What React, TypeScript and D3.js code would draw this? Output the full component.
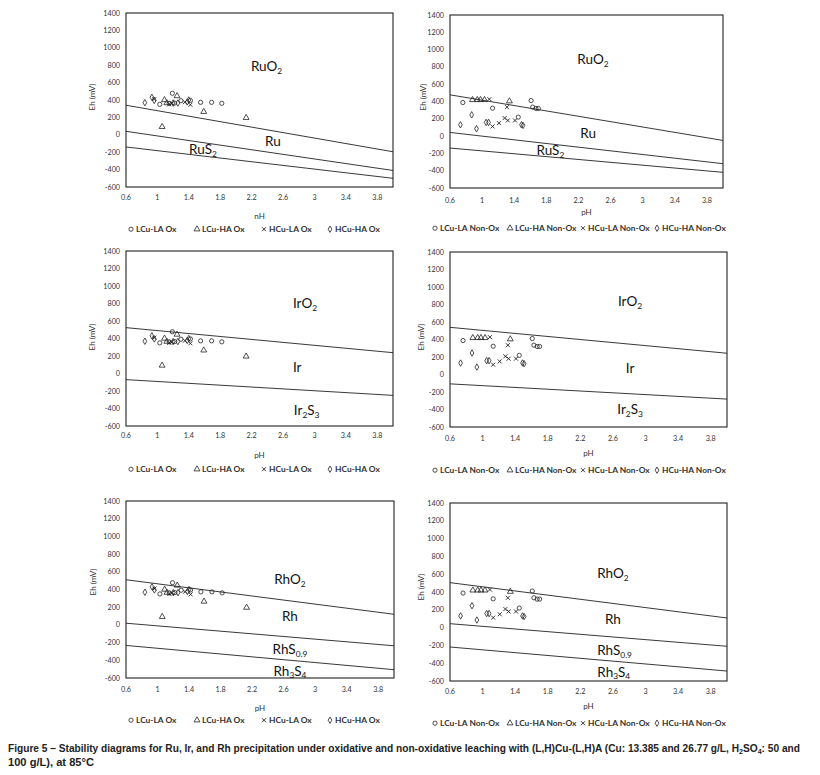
import * as d3 from "d3";

const phTicks = [0.6, 1, 1.4, 1.8, 2.2, 2.6, 3, 3.4, 3.8];
const ehTicks = [-600, -400, -200, 0, 200, 400, 600, 800, 1000, 1200, 1400];
const phRange = [0.6, 4.0];
const ehRange = [-600, 1400];

const oxNames = ["LCu-LA Ox", "LCu-HA Ox", "HCu-LA Ox", "HCu-HA Ox"];
const nonOxNames = ["LCu-LA Non-Ox", "LCu-HA Non-Ox", "HCu-LA Non-Ox", "HCu-HA Non-Ox"];

// measured points [pH, Eh mV], oxidative leaching
const lcuLaOx = [[1.03, 350], [1.15, 362], [1.19, 477], [1.22, 365], [1.3, 392], [1.42, 395], [1.55, 373], [1.69, 373], [1.82, 362]];
const lcuHaOx = [[1.06, 92], [1.09, 400], [1.12, 365], [1.25, 446], [1.59, 265], [2.13, 196]];
const hcuLaOx = [[0.96, 410], [1.15, 350], [1.18, 360], [1.35, 375], [1.42, 345]];
const hcuHaOx = [[0.84, 369], [0.93, 431], [0.96, 395], [1.2, 365], [1.26, 365], [1.38, 378], [1.4, 400]];

// non-oxidative leaching
const lcuLaNonOx = [[0.76, 388], [1.13, 323], [1.45, 219], [1.61, 411], [1.63, 335], [1.67, 320], [1.7, 320]];
const lcuHaNonOx = [[0.88, 419], [0.94, 419], [0.98, 419], [1.03, 419], [1.34, 404]];
const hcuLaNonOx = [[1.09, 427], [1.13, 112], [1.21, 150], [1.28, 208], [1.31, 335], [1.32, 181], [1.41, 181]];
const hcuHaNonOx = [[0.73, 131], [0.87, 246], [0.93, 85], [1.05, 158], [1.08, 158], [1.49, 131], [1.51, 124]];

const oxData = [lcuLaOx, lcuHaOx, hcuLaOx, hcuHaOx];
const nonOxData = [lcuLaNonOx, lcuHaNonOx, hcuLaNonOx, hcuHaNonOx];

// boundaries: Eh at pH 0.6 and at pH 4.0
const ruOxBounds = [[340, -195], [40, -410], [-140, -500]];
const ruNonOxBounds = [[477, -50], [42, -319], [-138, -419]];
const irOxBounds = [[524, 238], [-70, -250]];
const irNonOxBounds = [[539, 243], [-107, -281]];
const rhOxBounds = [[510, 120], [19, -236], [-232, -506]];
const rhNonOxBounds = [[505, 108], [44, -210], [-218, -488]];

// field labels [text, pH, Eh]; "_x" = subscript
const ruOxLabels = [["RuO_2", 2.39, 785], ["Ru", 2.47, -81], ["RuS_2", 1.58, -165]];
const ruNonOxLabels = [["RuO_2", 2.38, 881], ["Ru", 2.32, 35], ["RuS_2", 1.85, -169]];
const irOxLabels = [["IrO_2", 2.88, 798], ["Ir", 2.78, 63], ["Ir_2S_3", 2.9, -421]];
const irNonOxLabels = [["IrO_2", 2.81, 831], ["Ir", 2.81, 72], ["Ir_2S_3", 2.81, -403]];
const rhOxLabels = [["RhO_2", 2.68, 514], ["Rh", 2.68, 94], ["RhS_0.9", 2.68, -274], ["Rh_3S_4", 2.68, -521]];
const rhNonOxLabels = [["RhO_2", 2.6, 613], ["Rh", 2.6, 89], ["RhS_0.9", 2.62, -255], ["Rh_3S_4", 2.61, -499]];

const panels = [
  { box: [126, 13, 393, 187], bounds: ruOxBounds, labels: ruOxLabels, ox: true, tickY: 199.5, titleY: 219, legendY: 232, yTitle: [92, 97], pHLabel: "nH" },
  { box: [450, 15, 723, 188], bounds: ruNonOxBounds, labels: ruNonOxLabels, ox: false, tickY: 202.5, titleY: 215, legendY: 231, yTitle: [423, 97], pHLabel: "pH" },
  { box: [126, 251, 393, 426], bounds: irOxBounds, labels: irOxLabels, ox: true, tickY: 437.5, titleY: 458, legendY: 472, yTitle: [92, 337], pHLabel: "pH" },
  { box: [450, 252, 727, 427], bounds: irNonOxBounds, labels: irNonOxLabels, ox: false, tickY: 440.5, titleY: 456, legendY: 473, yTitle: [421, 337], pHLabel: "pH" },
  { box: [126, 501, 394, 678], bounds: rhOxBounds, labels: rhOxLabels, ox: true, tickY: 691.5, titleY: 711, legendY: 723, yTitle: [93, 582], pHLabel: "pH" },
  { box: [450, 503, 727, 681], bounds: rhNonOxBounds, labels: rhNonOxLabels, ox: false, tickY: 693.5, titleY: 709, legendY: 726, yTitle: [421, 587], pHLabel: "pH" },
];

const oxLegendX = [5, 71, 138, 204];
const nonOxLegendX = [-15, 60, 133, 207];

const ink = "#222";
const fmt = (v: number) => String(+v.toFixed(1));

function Marker({ kind, x, y }: { kind: number; x: number; y: number }) {
  if (kind === 0) return <circle cx={x} cy={y} r={2.1} fill="none" stroke={ink} strokeWidth={0.8} />;
  if (kind === 1) return <path d={d3.symbol(d3.symbolTriangle, 15)()!} transform={`translate(${x},${y})`} fill="none" stroke={ink} strokeWidth={0.8} />;
  if (kind === 2) return <path d="M-2,-2L2,2M-2,2L2,-2" transform={`translate(${x},${y})`} stroke={ink} strokeWidth={0.9} />;
  return <path d={d3.symbol(d3.symbolDiamond, 12)()!} transform={`translate(${x},${y})`} fill="none" stroke={ink} strokeWidth={0.8} />;
}

function Formula({ text, x, y, size }: { text: string; x: number; y: number; size: number }) {
  const parts = text.split(/_(\d+(?:\.\d+)?)/);
  return (
    <text x={x} y={y} fontSize={size} textAnchor="middle" fill="#111" fontFamily="Lato, 'Noto Sans', sans-serif">
      {parts.map((p, i) =>
        i % 2 === 1 ? (
          <tspan key={i} fontSize={size * 0.62} dy={size * 0.22}>{p}</tspan>
        ) : p ? (
          <tspan key={i} dy={i > 0 ? -size * 0.22 : 0}>{p}</tspan>
        ) : null
      )}
    </text>
  );
}

function Panel({ p }: { p: (typeof panels)[number] }) {
  const [l, t, r, b] = p.box;
  const x = d3.scaleLinear().domain(phRange).range([l, r]);
  const y = d3.scaleLinear().domain(ehRange).range([b, t]);
  const data = p.ox ? oxData : nonOxData;
  const names = p.ox ? oxNames : nonOxNames;
  const legX = p.ox ? oxLegendX : nonOxLegendX;
  return (
    <g>
      {p.bounds.map((bd, i) => (
        <line key={i} x1={x(phRange[0])} y1={y(bd[0])} x2={x(phRange[1])} y2={y(bd[1])} stroke={ink} strokeWidth={0.9} />
      ))}
      <rect x={l} y={t} width={r - l} height={b - t} fill="none" stroke={ink} strokeWidth={1.1} />
      {ehTicks.map((v) => (
        <text key={v} x={l - 6} y={y(v) + 2.5} fontSize={7.2} textAnchor="end" fill="#333" fontFamily="Lato, sans-serif">{v}</text>
      ))}
      {phTicks.map((v) => (
        <text key={v} x={x(v)} y={p.tickY} fontSize={7.2} textAnchor="middle" fill="#333" fontFamily="Lato, sans-serif">{fmt(v)}</text>
      ))}
      <text x={(l + r) / 2} y={p.titleY} fontSize={8} textAnchor="middle" fill="#333" fontFamily="Lato, sans-serif">{p.pHLabel}</text>
      <text transform={`translate(${p.yTitle[0]},${p.yTitle[1]}) rotate(-90)`} dy="0.35em" fontSize={8} textAnchor="middle" fill="#333" fontFamily="Lato, sans-serif">Eh (mV)</text>
      {p.labels.map(([txt, ph, eh]) => (
        <Formula key={txt as string} text={txt as string} x={x(ph as number)} y={y(eh as number) + 4.5} size={13.5} />
      ))}
      {data.map((s, k) => s.map((d, i) => <Marker key={`${k}-${i}`} kind={k} x={x(d[0])} y={y(d[1])} />))}
      {names.map((n, k) => (
        <g key={n}>
          <Marker kind={k} x={l + legX[k]} y={p.legendY - 2.8} />
          <text x={l + legX[k] + 5} y={p.legendY} fontSize={8.4} fontWeight={700} fill="#333" fontFamily="Lato, sans-serif">{n}</text>
        </g>
      ))}
    </g>
  );
}

export default function App() {
  return (
    <svg width={820} height={775} style={{ position: "absolute", left: 0, top: 0, background: "#fff" }}>
      <rect width={820} height={775} fill="#fff" />
      {panels.map((p, i) => <Panel key={i} p={p} />)}
      <g fontFamily="'Liberation Sans Narrow', 'Arial Narrow', 'Liberation Sans', sans-serif" fontWeight={700} fontSize={10} fill="#222">
        <text x={8} y={752} textLength={792} lengthAdjust="spacingAndGlyphs">
          Figure 5 – Stability diagrams for Ru, Ir, and Rh precipitation under oxidative and non-oxidative leaching with (L,H)Cu-(L,H)A (Cu: 13.385 and 26.77 g/L, H
          <tspan fontSize={7} dy={2}>2</tspan>
          <tspan dy={-2}>SO</tspan>
          <tspan fontSize={7} dy={2}>4</tspan>
          <tspan dy={-2}>: 50 and</tspan>
        </text>
        <text x={8} y={766} textLength={86} lengthAdjust="spacingAndGlyphs">100 g/L), at 85°C</text>
      </g>
    </svg>
  );
}
